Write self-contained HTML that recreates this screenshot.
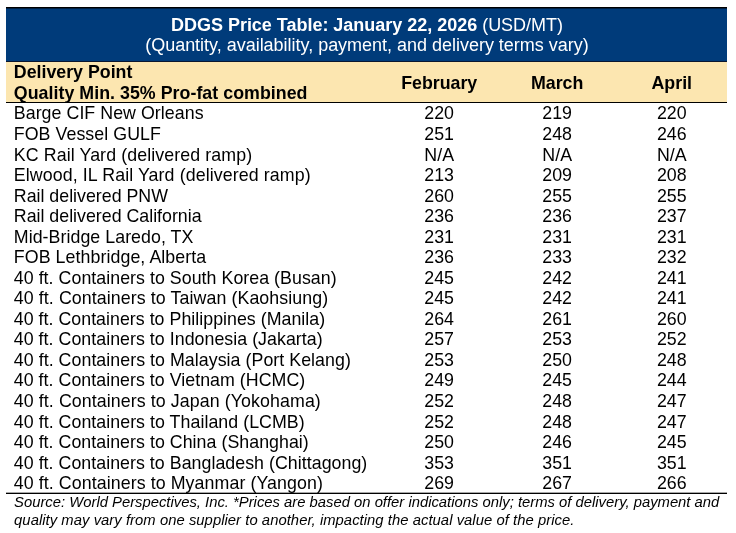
<!DOCTYPE html>
<html><head><meta charset="utf-8"><title>DDGS Price Table</title>
<style>
html,body{margin:0;padding:0;background:#fff;}
body{will-change:transform;width:736px;height:533px;position:relative;overflow:hidden;font-family:"Liberation Sans",sans-serif;color:#000;}
.abs{position:absolute;white-space:nowrap;}
.t{font-size:17.8px;line-height:20px;height:20px;}
.c{text-align:center;width:120px;margin-left:-60px;}
.b{font-weight:bold;}
</style></head><body>

<div class="abs" style="left:6px;top:7px;width:721px;height:1px;background:#000"></div>
<div class="abs" style="left:6px;top:8px;width:721px;height:53px;background:#003b7a"></div>
<div class="abs" style="left:6px;top:8px;width:721px;height:1px;background:#001f42"></div>
<div class="abs" style="left:6px;top:492px;width:721px;height:1px;background:#a8a8a8"></div>
<div class="abs" style="left:6px;top:61px;width:721px;height:1px;background:#0a1730"></div>
<div class="abs" style="left:6px;top:62px;width:721px;height:40px;background:#fce6b0"></div>
<div class="abs" style="left:6px;top:102px;width:721px;height:1px;background:#000"></div>
<div class="abs" style="left:6px;top:493px;width:721px;height:1px;background:#000"></div>
<div id="title1" class="abs" style="font-size:18.0px;line-height:20px;left:171.00px;color:#fff;top:15.00px;letter-spacing:-0.019px;"><b>DDGS Price Table: January 22, 2026</b> (USD/MT)</div>
<div id="title2" class="abs" style="font-size:18.0px;line-height:20px;left:145.20px;color:#fff;top:35.00px;letter-spacing:-0.018px;">(Quantity, availability, payment, and delivery terms vary)</div>
<div id="hdr1" class="abs t b" style="left:13.8px;top:62.00px;">Delivery Point</div>
<div id="hdr2" class="abs t b" style="left:13.8px;top:83.00px;letter-spacing:0.038px;">Quality Min. 35% Pro-fat combined</div>
<div class="abs t b c" style="left:439.2px;top:73.00px">February</div>
<div class="abs t b c" style="left:557.2px;top:73.00px">March</div>
<div class="abs t b c" style="left:671.8px;top:73.00px">April</div>
<div id="r1" class="abs t" style="left:13.8px;top:103.00px;letter-spacing:0.050px;">Barge CIF New Orleans</div>
<div class="abs t c" style="left:439.2px;top:103.00px">220</div>
<div class="abs t c" style="left:557.2px;top:103.00px">219</div>
<div class="abs t c" style="left:671.8px;top:103.00px">220</div>
<div id="r2" class="abs t" style="left:13.8px;top:124.00px;letter-spacing:0.057px;">FOB Vessel GULF</div>
<div class="abs t c" style="left:439.2px;top:124.00px">251</div>
<div class="abs t c" style="left:557.2px;top:124.00px">248</div>
<div class="abs t c" style="left:671.8px;top:124.00px">246</div>
<div id="r3" class="abs t" style="left:13.8px;top:145.00px;letter-spacing:0.100px;">KC Rail Yard (delivered ramp)</div>
<div class="abs t c" style="left:439.2px;top:145.00px">N/A</div>
<div class="abs t c" style="left:557.2px;top:145.00px">N/A</div>
<div class="abs t c" style="left:671.8px;top:145.00px">N/A</div>
<div id="r4" class="abs t" style="left:13.8px;top:165.00px;letter-spacing:0.100px;">Elwood, IL Rail Yard (delivered ramp)</div>
<div class="abs t c" style="left:439.2px;top:165.00px">213</div>
<div class="abs t c" style="left:557.2px;top:165.00px">209</div>
<div class="abs t c" style="left:671.8px;top:165.00px">208</div>
<div id="r5" class="abs t" style="left:13.8px;top:186.00px;">Rail delivered PNW</div>
<div class="abs t c" style="left:439.2px;top:186.00px">260</div>
<div class="abs t c" style="left:557.2px;top:186.00px">255</div>
<div class="abs t c" style="left:671.8px;top:186.00px">255</div>
<div id="r6" class="abs t" style="left:13.8px;top:206.00px;">Rail delivered California</div>
<div class="abs t c" style="left:439.2px;top:206.00px">236</div>
<div class="abs t c" style="left:557.2px;top:206.00px">236</div>
<div class="abs t c" style="left:671.8px;top:206.00px">237</div>
<div id="r7" class="abs t" style="left:13.8px;top:227.00px;letter-spacing:0.050px;">Mid-Bridge Laredo, TX</div>
<div class="abs t c" style="left:439.2px;top:227.00px">231</div>
<div class="abs t c" style="left:557.2px;top:227.00px">231</div>
<div class="abs t c" style="left:671.8px;top:227.00px">231</div>
<div id="r8" class="abs t" style="left:13.8px;top:247.00px;letter-spacing:0.073px;">FOB Lethbridge, Alberta</div>
<div class="abs t c" style="left:439.2px;top:247.00px">236</div>
<div class="abs t c" style="left:557.2px;top:247.00px">233</div>
<div class="abs t c" style="left:671.8px;top:247.00px">232</div>
<div id="r9" class="abs t" style="left:13.8px;top:268.00px;letter-spacing:0.041px;">40 ft. Containers to South Korea (Busan)</div>
<div class="abs t c" style="left:439.2px;top:268.00px">245</div>
<div class="abs t c" style="left:557.2px;top:268.00px">242</div>
<div class="abs t c" style="left:671.8px;top:268.00px">241</div>
<div id="r10" class="abs t" style="left:13.8px;top:288.00px;letter-spacing:0.089px;">40 ft. Containers to Taiwan (Kaohsiung)</div>
<div class="abs t c" style="left:439.2px;top:288.00px">245</div>
<div class="abs t c" style="left:557.2px;top:288.00px">242</div>
<div class="abs t c" style="left:671.8px;top:288.00px">241</div>
<div id="r11" class="abs t" style="left:13.8px;top:309.00px;letter-spacing:0.025px;">40 ft. Containers to Philippines (Manila)</div>
<div class="abs t c" style="left:439.2px;top:309.00px">264</div>
<div class="abs t c" style="left:557.2px;top:309.00px">261</div>
<div class="abs t c" style="left:671.8px;top:309.00px">260</div>
<div id="r12" class="abs t" style="left:13.8px;top:329.00px;letter-spacing:0.036px;">40 ft. Containers to Indonesia (Jakarta)</div>
<div class="abs t c" style="left:439.2px;top:329.00px">257</div>
<div class="abs t c" style="left:557.2px;top:329.00px">253</div>
<div class="abs t c" style="left:671.8px;top:329.00px">252</div>
<div id="r13" class="abs t" style="left:13.8px;top:350.00px;letter-spacing:0.048px;">40 ft. Containers to Malaysia (Port Kelang)</div>
<div class="abs t c" style="left:439.2px;top:350.00px">253</div>
<div class="abs t c" style="left:557.2px;top:350.00px">250</div>
<div class="abs t c" style="left:671.8px;top:350.00px">248</div>
<div id="r14" class="abs t" style="left:13.8px;top:370.00px;letter-spacing:0.035px;">40 ft. Containers to Vietnam (HCMC)</div>
<div class="abs t c" style="left:439.2px;top:370.00px">249</div>
<div class="abs t c" style="left:557.2px;top:370.00px">245</div>
<div class="abs t c" style="left:671.8px;top:370.00px">244</div>
<div id="r15" class="abs t" style="left:13.8px;top:391.00px;letter-spacing:0.089px;">40 ft. Containers to Japan (Yokohama)</div>
<div class="abs t c" style="left:439.2px;top:391.00px">252</div>
<div class="abs t c" style="left:557.2px;top:391.00px">248</div>
<div class="abs t c" style="left:671.8px;top:391.00px">247</div>
<div id="r16" class="abs t" style="left:13.8px;top:412.00px;letter-spacing:0.046px;">40 ft. Containers to Thailand (LCMB)</div>
<div class="abs t c" style="left:439.2px;top:412.00px">252</div>
<div class="abs t c" style="left:557.2px;top:412.00px">248</div>
<div class="abs t c" style="left:671.8px;top:412.00px">247</div>
<div id="r17" class="abs t" style="left:13.8px;top:432.00px;letter-spacing:0.039px;">40 ft. Containers to China (Shanghai)</div>
<div class="abs t c" style="left:439.2px;top:432.00px">250</div>
<div class="abs t c" style="left:557.2px;top:432.00px">246</div>
<div class="abs t c" style="left:671.8px;top:432.00px">245</div>
<div id="r18" class="abs t" style="left:13.8px;top:453.00px;letter-spacing:0.037px;">40 ft. Containers to Bangladesh (Chittagong)</div>
<div class="abs t c" style="left:439.2px;top:453.00px">353</div>
<div class="abs t c" style="left:557.2px;top:453.00px">351</div>
<div class="abs t c" style="left:671.8px;top:453.00px">351</div>
<div id="r19" class="abs t" style="left:13.8px;top:473.00px;letter-spacing:0.083px;">40 ft. Containers to Myanmar (Yangon)</div>
<div class="abs t c" style="left:439.2px;top:473.00px">269</div>
<div class="abs t c" style="left:557.2px;top:473.00px">267</div>
<div class="abs t c" style="left:671.8px;top:473.00px">266</div>
<div id="src1" class="abs" style="left:14.100000000000001px;top:493.00px;font-size:14.8px;line-height:18px;font-style:italic;letter-spacing:0.006px;">Source: World Perspectives, Inc. *Prices are based on offer indications only; terms of delivery, payment and</div>
<div id="src2" class="abs" style="left:14.100000000000001px;top:511.00px;font-size:14.8px;line-height:18px;font-style:italic;letter-spacing:0.049px;">quality may vary from one supplier to another, impacting the actual value of the price.</div>
</body></html>
